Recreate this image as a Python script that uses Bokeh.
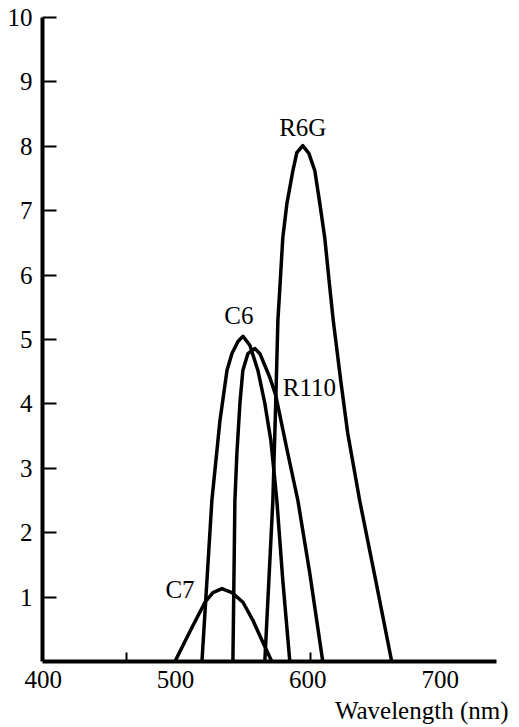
from bokeh.plotting import figure
from bokeh.models import FixedTicker, Label, Title
from bokeh.embed import file_html
from bokeh.resources import INLINE

# ---- data (wavelength nm, relative output) ----
c7_wl = [499.6, 511.0, 522.3, 528.3, 535.1, 542.6, 551.0, 558.5, 566.0, 572.8]
c7_val = [0.0, 0.47, 0.92, 1.07, 1.13, 1.07, 0.92, 0.64, 0.30, 0.0]

c6_wl = [520.0, 527.5, 533.6, 538.9, 542.6, 547.2, 551.0, 556.2, 562.3, 567.5, 572.1, 576.6, 581.1, 586.4]
c6_val = [0.0, 2.50, 3.74, 4.52, 4.78, 4.97, 5.05, 4.91, 4.52, 4.01, 3.43, 2.50, 1.26, 0.0]

r110_wl = [543.4, 544.9, 546.4, 548.7, 550.9, 554.7, 560.0, 563.8, 571.3, 575.8, 584.9, 592.5, 601.5, 611.3]
r110_val = [0.0, 2.50, 3.23, 4.01, 4.52, 4.78, 4.86, 4.78, 4.41, 4.13, 3.23, 2.50, 1.37, 0.0]

r6g_wl = [567.5, 573.6, 575.8, 577.4, 578.9, 581.1, 584.2, 588.7, 591.7, 596.2, 600.8, 605.3, 609.1,
          612.8, 616.6, 619.2, 624.9, 630.2, 639.2, 651.3, 663.4]
r6g_val = [0.0, 2.50, 4.05, 5.30, 5.81, 6.58, 7.11, 7.62, 7.90, 8.01, 7.89, 7.62, 7.11,
           6.58, 5.81, 5.30, 4.36, 3.54, 2.50, 1.26, 0.0]

dye_names = ["C7", "C6", "R110", "R6G"]
dye_label_x = [503.4, 547.9, 581.1, 596.2]
dye_label_y = [1.12, 5.37, 4.25, 8.29]
dye_label_align = ["center", "center", "left", "center"]

x_ticks = [400, 500, 600, 700]
x_minor_ticks = [463, 602]
y_ticks = [1, 2, 3, 4, 5, 6, 7, 8, 9, 10]
x_title = "Wavelength (nm)"

FONT = "Liberation Serif"

p = figure(width=519, height=727, x_range=(399.5, 742.6), y_range=(0, 10),
           output_backend="svg", toolbar_location=None,
           min_border_left=42, min_border_right=23, min_border_top=17, min_border_bottom=66)
p.outline_line_color = None
p.xgrid.visible = False
p.ygrid.visible = False
p.background_fill_color = "white"
p.border_fill_color = "white"

for wl, val in [(c7_wl, c7_val), (c6_wl, c6_val), (r110_wl, r110_val), (r6g_wl, r6g_val)]:
    p.line(wl, val, line_color="black", line_width=3.5, line_join="round", line_cap="round")

for name, lx, ly, al in zip(dye_names, dye_label_x, dye_label_y, dye_label_align):
    p.add_layout(Label(x=lx, y=ly, text=name, text_font=FONT, text_font_size="25px",
                       text_align=al, text_baseline="middle", text_color="black"))

xa = p.xaxis[0]
xa.ticker = FixedTicker(ticks=x_ticks, minor_ticks=x_minor_ticks)
xa.axis_line_width = 4
xa.axis_line_color = "black"
xa.major_tick_in = 0
xa.major_tick_out = 0
xa.minor_tick_in = 9
xa.minor_tick_out = 0
xa.minor_tick_line_width = 2
xa.minor_tick_line_color = "black"
xa.major_label_text_font = FONT
xa.major_label_text_font_size = "25px"
xa.major_label_text_color = "black"
xa.major_label_standoff = 9

p.add_layout(Title(text=x_title, align="right", offset=-12, text_font=FONT,
                   text_font_size="25px", text_font_style="normal", text_color="black",
                   standoff=8), "below")

ya = p.yaxis[0]
ya.ticker = FixedTicker(ticks=y_ticks)
ya.axis_line_width = 4
ya.axis_line_color = "black"
ya.major_tick_in = 14
ya.major_tick_out = 0
ya.major_tick_line_width = 2
ya.major_tick_line_color = "black"
ya.minor_tick_line_color = None
ya.major_label_text_font = FONT
ya.major_label_text_font_size = "25px"
ya.major_label_text_color = "black"
ya.major_label_standoff = 10

open("out.html", "w").write(file_html(p, INLINE))
